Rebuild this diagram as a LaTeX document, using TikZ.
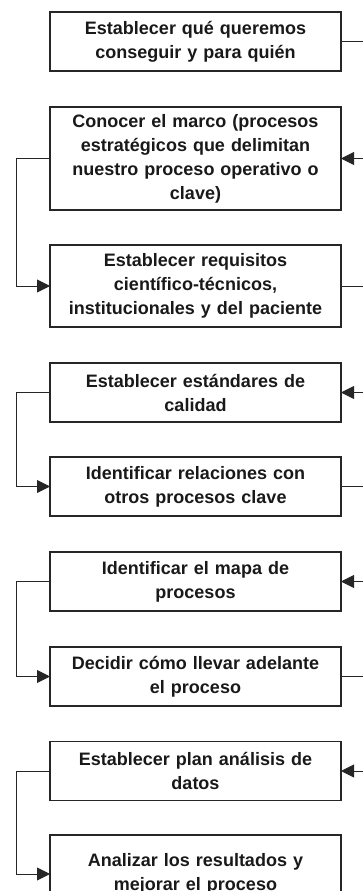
\documentclass[tikz,border=0pt]{standalone}
\usepackage{fontspec}
\setmainfont{Liberation Sans}
\usetikzlibrary{arrows.meta}

\begin{document}
\begin{tikzpicture}[x=1pt,y=-1pt,
  paso/.style={draw=black!85, line width=1.2pt, fill=white, text=black!90,
    text width=280pt, align=center, font=\bfseries\fontsize{18}{24}\selectfont,
    minimum width=291pt, minimum height=59pt, inner sep=0pt, outer sep=0pt},
  enlace/.style={draw=black!85, line width=0.9pt, -{Triangle[length=13pt,width=13pt]}}]
  \clip (0,0) rectangle (363,891); %Crop as in the original page

  \node[paso] (objetivo) at (195.5,41.5) {Establecer qué queremos\\ conseguir y para quién};
  \node[paso, minimum height=103pt] (marco) at (195.5,158.5) {Conocer el marco (procesos\\ estratégicos que delimitan\\ nuestro proceso operativo o\\ clave)};
  \node[paso, minimum height=82pt] (requisitos) at (195.5,286) {Establecer requisitos\\ científico-técnicos,\\ institucionales y del paciente};
  \node[paso] (estandares) at (195.5,392.5) {Establecer estándares de\\ calidad};
  \node[paso] (relaciones) at (195.5,486.5) {Identificar relaciones con\\ otros procesos clave};
  \node[paso] (mapa) at (195.5,581.5) {Identificar el mapa de\\ procesos};
  \node[paso] (decidir) at (195.5,676.5) {Decidir cómo llevar adelante\\ el proceso};
  \node[paso] (plan) at (195.5,771) {Establecer plan análisis de\\ datos};
  \node[paso, minimum height=78pt] (analizar) at (195.5,874) {Analizar los resultados y\\ mejorar el proceso};

  \draw[enlace] (objetivo.east) -- ++(40,0) |- (marco.east); %Right loop
  \draw[enlace] (marco.west) -- ++(-34,0) |- (requisitos.west); %Left loop
  \draw[enlace] (requisitos.east) -- ++(40,0) |- (estandares.east); %Right loop
  \draw[enlace] (estandares.west) -- ++(-34,0) |- (relaciones.west); %Left loop
  \draw[enlace] (relaciones.east) -- ++(40,0) |- (mapa.east); %Right loop
  \draw[enlace] (mapa.west) -- ++(-34,0) |- (decidir.west); %Left loop
  \draw[enlace] (decidir.east) -- ++(40,0) |- (plan.east); %Right loop
  \draw[enlace] (plan.west) -- ++(-34,0) |- (analizar.west); %Left loop
\end{tikzpicture}
\end{document}
